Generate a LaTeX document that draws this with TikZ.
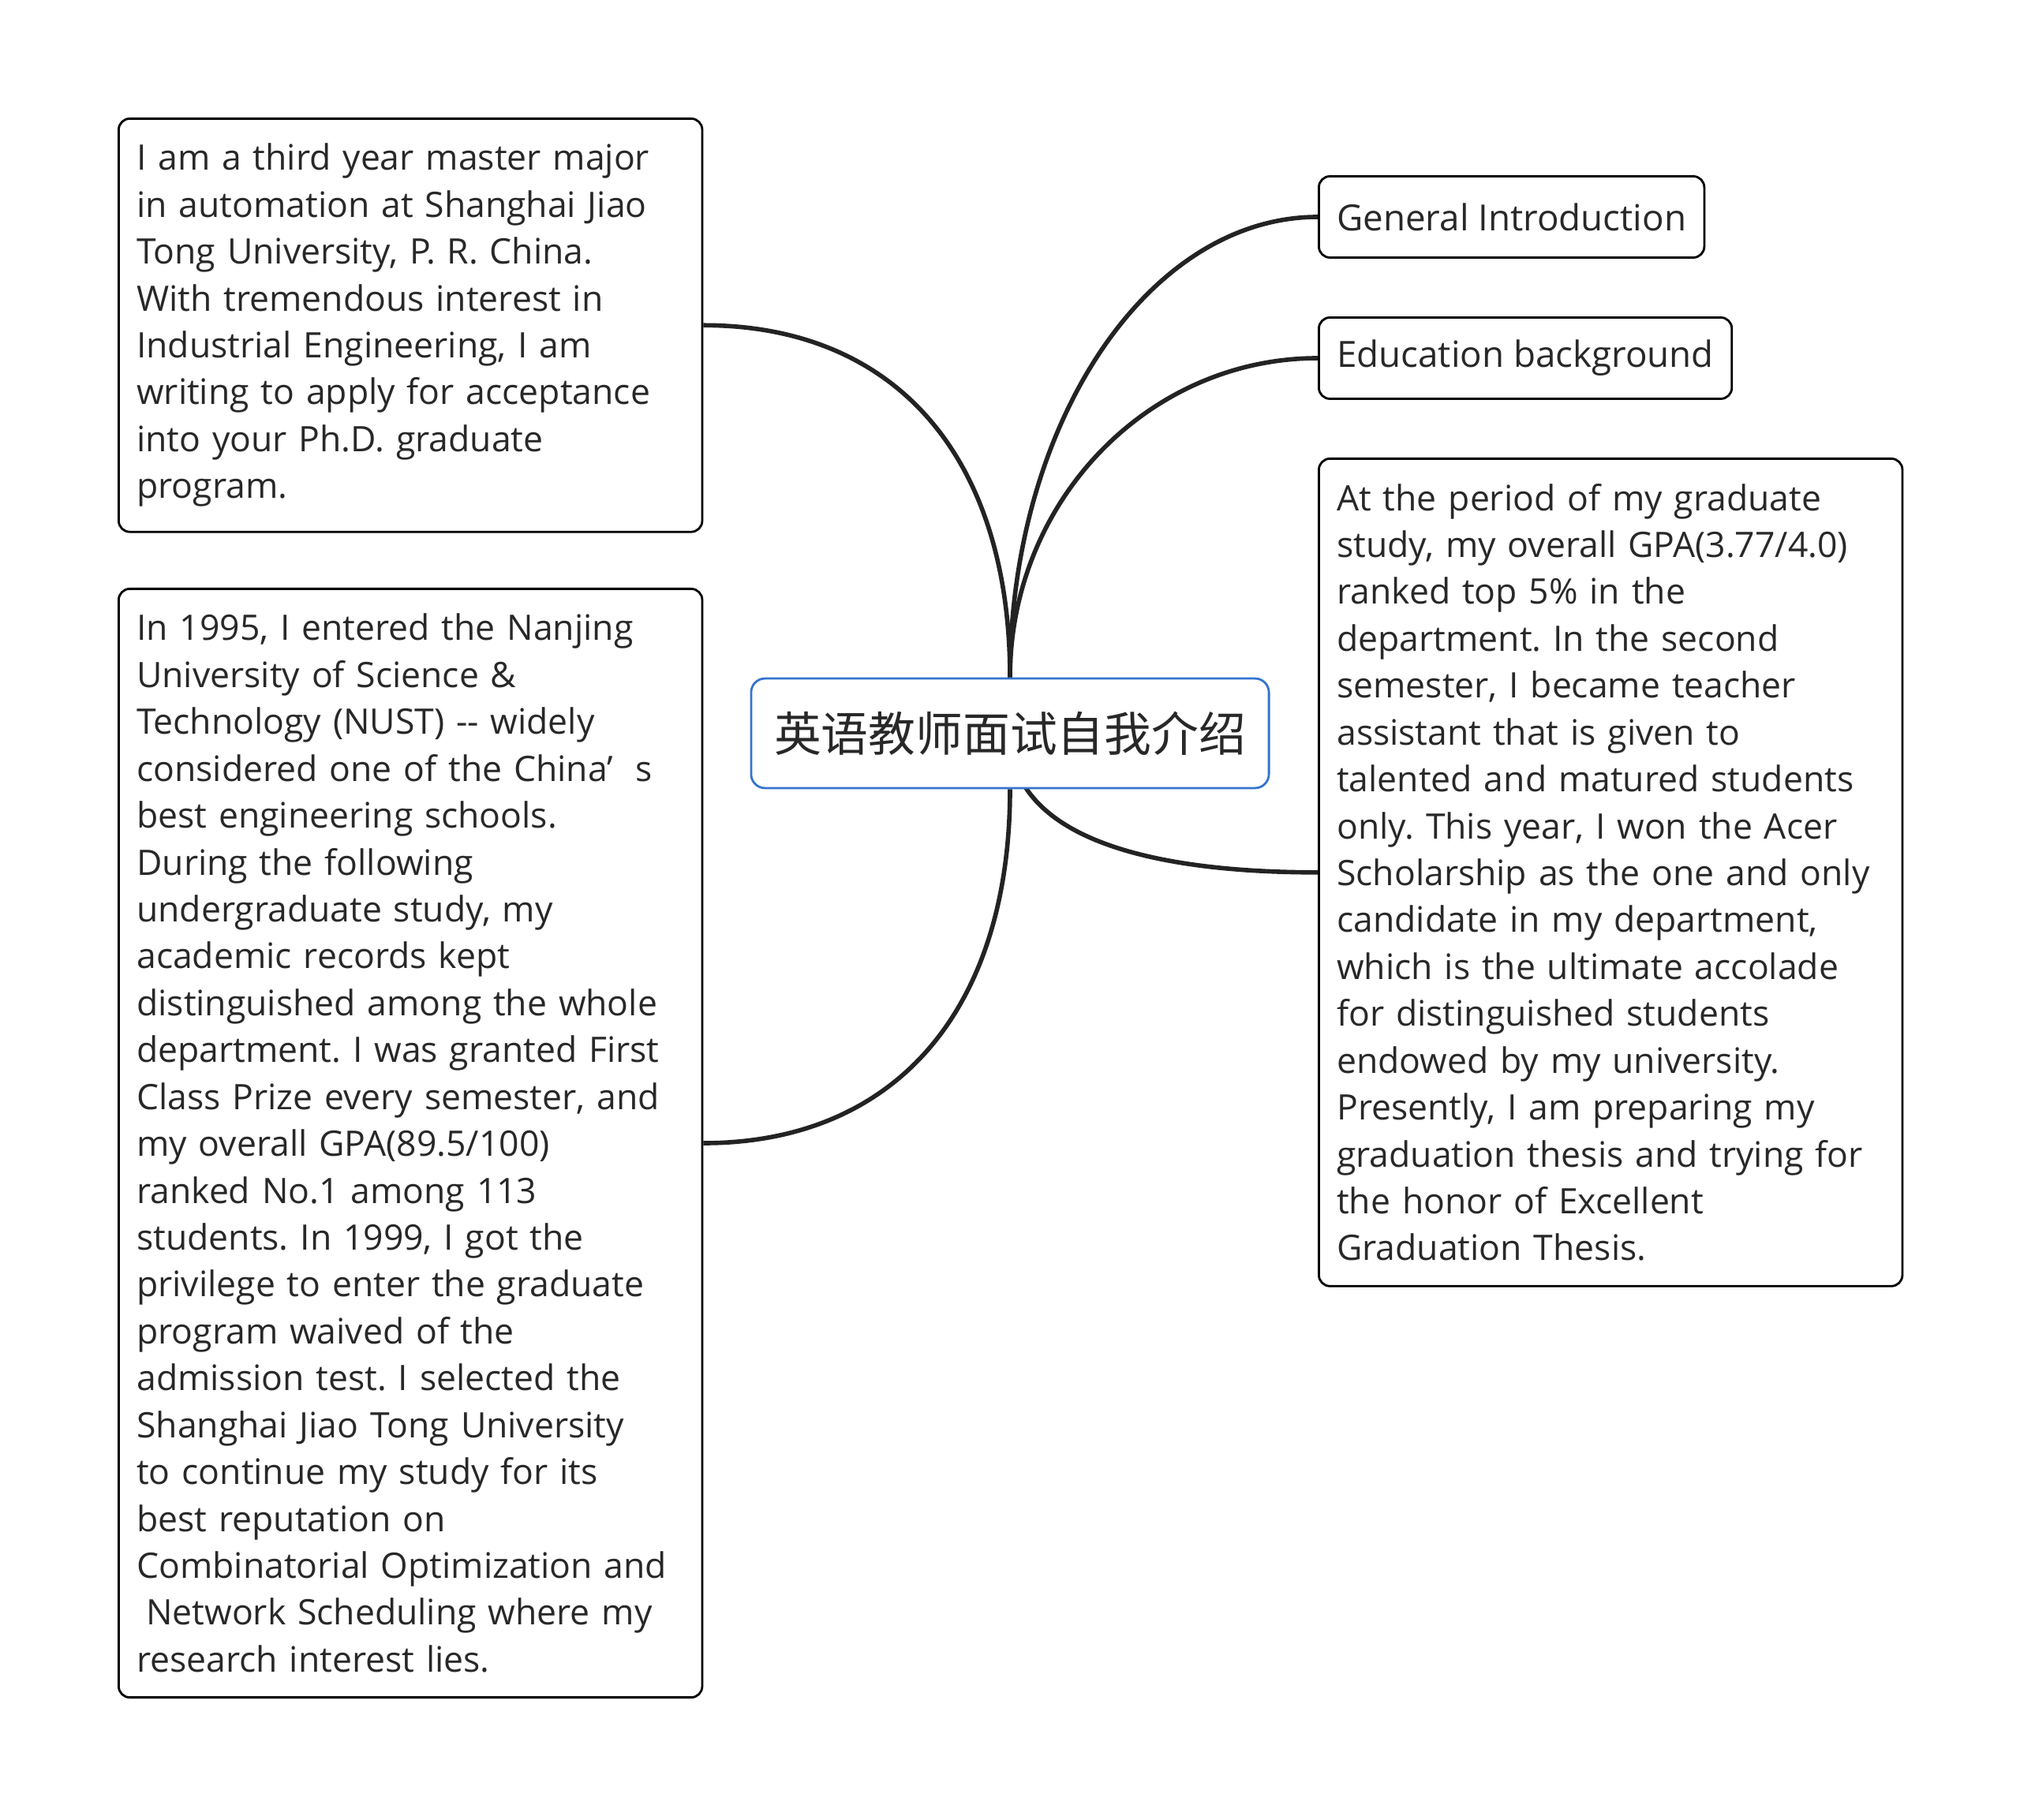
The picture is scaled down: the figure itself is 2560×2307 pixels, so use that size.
\documentclass[tikz,border=0pt]{standalone}
\usepackage{fontspec}
\setmainfont{Open Sans}
\newfontfamily\cjkfont{Noto Sans CJK SC}
\usepackage{tikz}
\usetikzlibrary{positioning, backgrounds}
\usepackage{xcolor}
\definecolor{MapaTexto}{RGB}{40,40,40}
\definecolor{MapaAzul}{RGB}{52,116,206}
\definecolor{MapaLinea}{RGB}{35,35,35}
\frenchspacing

\begin{document}
\begin{tikzpicture}[
    x=0.01cm, y=-0.01cm,
    root/.style={draw=MapaAzul, line width=0.8pt, rounded corners=5pt, fill=white, text=MapaTexto, minimum width=186.6pt, minimum height=39.5pt, inner sep=0pt, font=\cjkfont\fontsize{17}{20}\selectfont},
    topic/.style={draw=black, line width=0.8pt, rounded corners=4pt, fill=white, text=MapaTexto, inner xsep=6.5pt, inner ysep=8pt, minimum height=29.3pt, font=\fontsize{13}{17}\selectfont},
    para/.style={topic, text width=197.3pt, align=left, inner ysep=9pt, font=\fontsize{12.65}{16.9}\selectfont},
    link/.style={line width=1.6pt, MapaLinea}
]
    \useasboundingbox (0,0) rectangle (2560,2307);
    \node[root] (root) at (1280,929.5) {英语教师面试自我介绍};
    % right side
    \node[topic, anchor=west] (general) at (1670,275) {General Introduction};
    \node[topic, anchor=west] (education) at (1670,454) {Education background};
    \node[para, anchor=north west] (graduate) at (1670,580) {At the period of my graduate\\ study, my overall GPA(3.77/4.0)\\ ranked top 5\% in the\\ department. In the second\\ semester, I became teacher\\ assistant that is given to\\ talented and matured students\\ only. This year, I won the Acer\\ Scholarship as the one and only\\ candidate in my department,\\ which is the ultimate accolade\\ for distinguished students\\ endowed by my university.\\ Presently, I am preparing my\\ graduation thesis and trying for\\ the honor of Excellent\\ Graduation Thesis.};
    % left side
    \node[para, anchor=north west] (master) at (149,149) {I am a third year master major\\ in automation at Shanghai Jiao\\ Tong University, P. R. China.\\ With tremendous interest in\\ Industrial Engineering, I am\\ writing to apply for acceptance\\ into your Ph.D. graduate\\ program.};
    \node[para, anchor=north west] (nust) at (149,745) {In 1995, I entered the Nanjing\\ University of Science \&\\ Technology (NUST) -{}- widely\\ considered one of the China’\hspace{0.65em}s\\ best engineering schools.\\ During the following\\ undergraduate study, my\\ academic records kept\\ distinguished among the whole\\ department. I was granted First\\ Class Prize every semester, and\\ my overall GPA(89.5/100)\\ ranked No.1 among 113\\ students. In 1999, I got the\\ privilege to enter the graduate\\ program waived of the\\ admission test. I selected the\\ Shanghai Jiao Tong University\\ to continue my study for its\\ best reputation on\\ Combinatorial Optimization and\\ \hspace*{0.27em}Network Scheduling where my\\ research interest lies.};
    \begin{scope}[on background layer]
        \draw[link] (root.north) .. controls +(0,-322) and +(-215,0) .. (general.west);
        \draw[link] (root.north) .. controls +(0,-223) and +(-215,0) .. (education.west);
        \draw[link] (root.center) .. controls +(0,130) and +(-220,0) .. (graduate.west);
        \draw[link] (root.north) .. controls +(0,-280) and +(243,0) .. (master.east);
        \draw[link] (root.south) .. controls +(0,280) and +(243,0) .. (nust.east);
    \end{scope}
\end{tikzpicture}
\end{document}
